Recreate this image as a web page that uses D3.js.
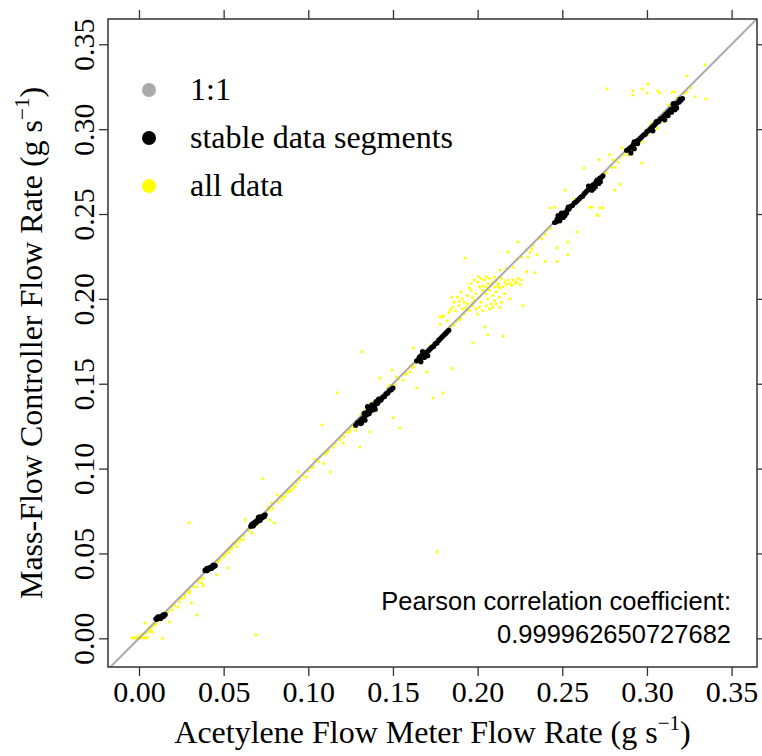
<!DOCTYPE html>
<html lang="en">
  <head>
    <meta charset="utf-8"/>
    <script src="https://d3js.org/d3.v7.min.js"></script>
    <title>Flow meter vs mass-flow controller</title>
  </head>
  <body style="margin:0;background:#fff">
    <svg id="chart"></svg>
  </body>

  <script>
    const xTicks = [0.00, 0.05, 0.10, 0.15, 0.20, 0.25, 0.30, 0.35];
    const yTicks = [0.00, 0.05, 0.10, 0.15, 0.20, 0.25, 0.30, 0.35];
    const legendLabels = ["1:1", "stable data segments", "all data"];
    const legendColors = ["#aaaaaa", "#000000", "#ffff00"];
    const pearsonLines = ["Pearson correlation coefficient:", "0.999962650727682"];

    // [flow meter, mass-flow controller] in g/s
    const allDataPoints = [
      [-0.004,0.0002],[-0.003,0.0005],[-0.002,0.0000],[-0.001,0.0004],[0.000,0.0001],[0.001,0.0006],
      [0.002,0.0002],[0.003,0.0004],[0.004,0.0001],[0.005,0.0005],[0.004,0.003],[0.006,0.004],
      [0.007,0.005],[0.0035,0.009],[0.0077,0.0067],[0.0077,0.0037],[0.0094,0.0079],[0.0135,0.012],
      [0.014,0.000],[0.017,0.0155],[0.018,0.0096],[0.0195,0.0167],[0.023,0.0184],[0.024,0.0214],
      [0.027,0.0255],[0.027,0.024],[0.030,0.0267],[0.030,0.0273],[0.034,0.0137],[0.031,0.0208],
      [0.0295,0.0285],[0.037,0.0326],[0.038,0.031],[0.0295,0.068],[0.0343,0.0302],[0.0378,0.0355],
      [0.046,0.0373],[0.0467,0.045],[0.0496,0.049],[0.0526,0.052],[0.0555,0.056],[0.058,0.0539],
      [0.0596,0.0597],[0.0614,0.058],[0.0638,0.0638],[0.0667,0.062],[0.0697,0.0668],[0.0526,0.0415],
      [0.0626,0.0697],[0.048,0.0465],[0.051,0.0495],[0.054,0.0525],[0.057,0.0555],[0.060,0.0585],
      [0.069,0.002],[0.073,0.094],[0.0774,0.0697],[0.080,0.068],[0.0815,0.0845],[0.0845,0.0815],
      [0.0874,0.0856],[0.090,0.0874],[0.0933,0.0915],[0.0762,0.0774],[0.0785,0.0797],[0.0833,0.0833],
      [0.086,0.0835],[0.089,0.0865],[0.092,0.0895],[0.094,0.098],[0.099,0.095],[0.103,0.101],
      [0.107,0.107],[0.109,0.103],[0.113,0.098],[0.1146,0.1127],[0.1187,0.1169],[0.1205,0.115],
      [0.1228,0.121],[0.1246,0.1228],[0.108,0.1257],[0.117,0.1446],[0.1305,0.1127],[0.1364,0.1216],
      [0.150,0.130],[0.154,0.124],[0.1317,0.1688],[0.1423,0.1535],[0.1494,0.158],[0.158,0.156],
      [0.164,0.1475],[0.170,0.157],[0.1736,0.1416],[0.1795,0.1446],[0.1848,0.159],[0.162,0.171],
      [0.1777,0.1894],[0.197,0.174],[0.152,0.154],[0.156,0.152],[0.160,0.157],[0.1423,0.1405],
      [0.1405,0.1346],[0.126,0.1245],[0.128,0.1225],[0.133,0.134],[0.138,0.139],[0.145,0.1435],
      [0.148,0.149],[0.151,0.1495],[0.162,0.160],[0.176,0.051],[0.100,0.0985],[0.111,0.1095],
      [0.116,0.1145],[0.104,0.1055],
      [0.1925,0.224],[0.1848,0.201],[0.179,0.1894],[0.204,0.1835],[0.206,0.1788],[0.215,0.178],
      [0.2268,0.196],[0.186,0.1845],[0.189,0.1875],
      [0.196,0.209],[0.198,0.211],[0.200,0.210],[0.202,0.212],[0.204,0.211],[0.206,0.209],
      [0.207,0.212],[0.209,0.210],[0.211,0.211],[0.212,0.209],[0.214,0.212],[0.216,0.210],
      [0.218,0.211],[0.219,0.209],[0.221,0.211],[0.223,0.210],[0.224,0.212],[0.226,0.211],
      [0.201,0.207],[0.205,0.207],[0.210,0.207],[0.215,0.207],[0.220,0.208],
      [0.196,0.205],[0.199,0.203],[0.201,0.201],[0.203,0.205],[0.205,0.203],[0.207,0.205],
      [0.209,0.202],[0.211,0.204],[0.213,0.201],[0.198,0.199],[0.194,0.202],[0.192,0.198],
      [0.190,0.204],[0.188,0.201],[0.216,0.203],[0.219,0.200],
      [0.185,0.195],[0.187,0.193],[0.189,0.196],[0.191,0.194],[0.193,0.195],[0.195,0.193],
      [0.197,0.196],[0.199,0.194],[0.201,0.195],[0.203,0.193],[0.205,0.196],[0.207,0.194],
      [0.209,0.195],[0.211,0.197],[0.213,0.195],[0.186,0.198],[0.192,0.191],[0.200,0.191],
      [0.180,0.190],[0.182,0.187],[0.183,0.192],[0.178,0.185],
      [0.217,0.218],[0.223,0.223],[0.229,0.229],[0.2327,0.2317],[0.2368,0.2364],[0.241,0.2406],
      [0.2238,0.2335],[0.218,0.2276],[0.2297,0.2247],[0.235,0.226],[0.2468,0.230],[0.2468,0.222],
      [0.2398,0.222],[0.2533,0.2335],[0.2533,0.226],[0.2586,0.2394],[0.2427,0.2535],[0.2457,0.2541],
      [0.2516,0.264],[0.2132,0.217],[0.210,0.2128],[0.229,0.216],[0.2338,0.2154],[0.221,0.2185],
      [0.226,0.2245],[0.231,0.2275],[0.238,0.2355],
      [0.263,0.277],[0.2675,0.254],[0.2722,0.2536],[0.271,0.249],[0.281,0.264],[0.284,0.2676],
      [0.2716,0.282],[0.278,0.285],[0.2852,0.289],[0.280,0.282],[0.284,0.283],[0.286,0.2848],
      [0.297,0.280],[0.2929,0.2907],[0.2976,0.2925],[0.3006,0.2966],[0.3018,0.3025],[0.3047,0.3037],
      [0.3088,0.3084],[0.3118,0.3113],[0.3124,0.3143],[0.3177,0.3184],[0.3195,0.319],[0.3236,0.3219],
      [0.3283,0.319],[0.3348,0.3178],[0.3236,0.3314],[0.3342,0.3379],[0.2764,0.3237],[0.2917,0.3225],
      [0.2917,0.3201],[0.297,0.3237],[0.3006,0.3266],[0.300,0.3213],[0.3065,0.3225],[0.3077,0.3213],
      [0.3148,0.3219],[0.3165,0.3219],[0.2663,0.254],[0.2705,0.2495],[0.274,0.2536],[0.281,0.2775],
      [0.289,0.2845],[0.295,0.291],[0.306,0.3005],[0.310,0.3045],
      [0.0005,0.0015],[0.002,0.0025],[0.006,0.0065],[0.008,0.0085],[0.010,0.0085],[0.012,0.0105],
      [0.016,0.0145],[0.019,0.0185],[0.021,0.0195],[0.025,0.0235],[0.028,0.0275],[0.032,0.0305],
      [0.035,0.0335],[0.036,0.035],[0.044,0.0435],[0.047,0.0455],[0.050,0.048],[0.053,0.0505],
      [0.055,0.0535],[0.059,0.057],[0.062,0.0605],[0.065,0.0635],[0.075,0.0735],[0.077,0.0755],
      [0.079,0.0765],[0.082,0.0805],[0.085,0.0835],[0.088,0.087],[0.091,0.0885],[0.095,0.0935],
      [0.097,0.096],[0.102,0.1005],[0.106,0.104],[0.110,0.1085],[0.112,0.1105],[0.119,0.1175],
      [0.121,0.119],[0.124,0.1215],[0.127,0.126],[0.131,0.1315],[0.135,0.1355],[0.139,0.1395],
      [0.143,0.1425],[0.147,0.1475],[0.153,0.1525],[0.157,0.1555],[0.161,0.1595],[0.163,0.162],
      [0.172,0.1725],[0.178,0.178],[0.184,0.1835],[0.187,0.1865],[0.190,0.1885],[0.194,0.1935],
      [0.197,0.1975],[0.203,0.2075],[0.208,0.208],[0.213,0.2065],[0.217,0.2085],[0.222,0.209],
      [0.225,0.2085],[0.195,0.2065],[0.197,0.201],[0.202,0.198],[0.206,0.200],[0.210,0.199],
      [0.214,0.198],[0.191,0.200],[0.189,0.1985],[0.184,0.1935],[0.194,0.197],[0.208,0.197],
      [0.212,0.2075],[0.2005,0.213],[0.205,0.213],[0.232,0.2295],[0.240,0.238],[0.243,0.2415],
      [0.257,0.2585],[0.261,0.2585],[0.268,0.2685],[0.276,0.2745],[0.279,0.2775],[0.283,0.2805],
      [0.287,0.286],[0.294,0.2935],[0.299,0.2985],[0.303,0.3035],[0.308,0.3055],[0.314,0.3145],
      [0.318,0.3175],[0.322,0.321],[0.326,0.3245]
    ];

    const stablePoints = [
      [0.0100,0.0115],[0.0105,0.0112],[0.0110,0.0120],[0.0115,0.0118],[0.0120,0.0125],[0.0125,0.0122],
      [0.0130,0.0128],[0.0135,0.0126],[0.0140,0.0132],[0.0145,0.0130],[0.0150,0.0136],[0.0112,0.0126],
      [0.0128,0.0117],[0.0142,0.0138],[0.0155,0.0140],
      [0.0390,0.0400],[0.0395,0.0405],[0.0400,0.0398],[0.0405,0.0410],[0.0410,0.0405],[0.0415,0.0415],
      [0.0420,0.0412],[0.0425,0.0420],[0.0430,0.0418],[0.0435,0.0425],[0.0440,0.0422],[0.0445,0.0430],
      [0.0450,0.0428],[0.0402,0.0412],[0.0428,0.0412],[0.0438,0.0432],
      [0.0660,0.0660],[0.0665,0.0670],[0.0670,0.0665],[0.0675,0.0678],[0.0680,0.0672],[0.0685,0.0685],
      [0.0690,0.0680],[0.0695,0.0692],[0.0700,0.0688],[0.0705,0.0700],[0.0710,0.0696],[0.0715,0.0708],
      [0.0720,0.0704],[0.0725,0.0715],[0.0730,0.0712],[0.0735,0.0722],[0.0740,0.0718],[0.0745,0.0728],
      [0.0675,0.0662],[0.0712,0.0716],[0.0705,0.0712],[0.0715,0.0695],
      [0.128,0.1255],[0.129,0.1270],[0.130,0.1275],[0.131,0.1285],[0.132,0.1295],[0.133,0.1300],
      [0.134,0.1315],[0.1345,0.1330],[0.135,0.1320],[0.136,0.1340],[0.137,0.1345],[0.138,0.1360],
      [0.139,0.1365],[0.140,0.1380],[0.141,0.1385],[0.142,0.1400],[0.143,0.1405],[0.144,0.1420],
      [0.145,0.1425],[0.146,0.1440],[0.147,0.1445],[0.148,0.1460],[0.149,0.1465],[0.150,0.1475],
      [0.1315,0.1270],[0.1335,0.1285],[0.1355,0.1345],[0.1375,0.1375],[0.1395,0.1350],[0.1415,0.1410],
      [0.133,0.1325],[0.136,0.1325],[0.135,0.1365],[0.131,0.1265],[0.138,0.1345],[0.140,0.1395],
      [0.164,0.1635],[0.165,0.1640],[0.1655,0.1655],[0.166,0.1650],[0.167,0.1665],[0.168,0.1670],
      [0.169,0.1680],[0.170,0.1685],[0.171,0.1695],[0.172,0.1705],[0.173,0.1715],[0.174,0.1720],
      [0.175,0.1735],[0.176,0.1740],[0.177,0.1755],[0.178,0.1765],[0.179,0.1775],[0.180,0.1785],
      [0.181,0.1795],[0.182,0.1805],[0.183,0.1815],[0.1665,0.1630],[0.1685,0.1655],[0.1705,0.1665],
      [0.1675,0.1690],[0.1665,0.1665],[0.1695,0.1665],
      [0.2455,0.2450],[0.2465,0.2455],[0.247,0.2470],[0.248,0.2475],[0.249,0.2485],[0.250,0.2490],
      [0.251,0.2505],[0.252,0.2510],[0.253,0.2525],[0.254,0.2530],[0.255,0.2545],[0.256,0.2550],
      [0.257,0.2565],[0.258,0.2570],[0.2485,0.2460],[0.2505,0.2480],[0.2525,0.2505],[0.2475,0.2490],
      [0.2495,0.2505],[0.2515,0.2490],[0.2535,0.2540],
      [0.259,0.2580],[0.260,0.2590],[0.261,0.2600],[0.262,0.2605],[0.263,0.2620],[0.264,0.2630],
      [0.265,0.2640],[0.266,0.2650],[0.267,0.2660],[0.268,0.2670],[0.269,0.2675],[0.270,0.2690],
      [0.271,0.2695],[0.272,0.2710],[0.273,0.2715],[0.274,0.2725],[0.2675,0.2640],[0.2695,0.2660],
      [0.2715,0.2680],[0.2655,0.2665],[0.2685,0.2650],[0.2705,0.2700],[0.2725,0.2690],
      [0.288,0.2875],[0.289,0.2880],[0.290,0.2890],[0.291,0.2895],[0.292,0.2910],[0.293,0.2915],
      [0.294,0.2930],[0.295,0.2935],[0.296,0.2945],[0.297,0.2955],[0.298,0.2965],[0.299,0.2970],
      [0.300,0.2985],[0.301,0.2990],[0.302,0.3000],[0.303,0.3010],[0.304,0.3020],[0.305,0.3030],
      [0.306,0.3040],[0.307,0.3045],[0.308,0.3060],[0.309,0.3065],[0.310,0.3075],[0.311,0.3085],
      [0.312,0.3095],[0.313,0.3105],[0.314,0.3115],[0.315,0.3120],[0.316,0.3135],[0.317,0.3140],
      [0.318,0.3155],[0.319,0.3160],[0.320,0.3170],[0.321,0.3180],[0.2905,0.2860],[0.2925,0.2885],
      [0.3105,0.3055],[0.3125,0.3080],[0.3145,0.3100],[0.3165,0.3115],
      [0.2925,0.2925],[0.2945,0.2915],[0.3035,0.2990],[0.3055,0.3045],[0.3155,0.3150],[0.3175,0.3125],
      [0.3195,0.3175]
    ];

    const W = 762, H = 756;
    const margin = {top: 19, right: 5, bottom: 89, left: 108};
    const width = W - margin.left - margin.right,
          height = H - margin.top - margin.bottom;
    const serif = "'Liberation Serif', 'Times New Roman', serif";
    const sans = "'Liberation Sans', Arial, sans-serif";

    const svg = d3.select("#chart")
        .attr("width", W)
        .attr("height", H);

    const g = svg.append("g")
        .attr("transform", "translate(" + margin.left + "," + margin.top + ")");

    const xScale = d3.scaleLinear().domain([-0.0183, 0.365]).range([0, width]);
    const yScale = d3.scaleLinear().domain([-0.0169, 0.3649]).range([height, 0]);

    g.append("clipPath").attr("id", "plotclip")
      .append("rect").attr("width", width).attr("height", height);

    const plot = g.append("g").attr("clip-path", "url(#plotclip)");

    // all data (yellow)
    plot.selectAll(".alld")
      .data(allDataPoints)
      .enter()
      .append("rect")
        .attr("class", "alld")
        .attr("x", d => xScale(d[0]) - 1.3)
        .attr("y", d => yScale(d[1]) - 1.3)
        .attr("width", 2.6)
        .attr("height", 2.6)
        .style("fill", "#ffff00");

    // 1:1 line
    plot.append("line")
      .attr("x1", xScale(-0.02)).attr("y1", yScale(-0.02))
      .attr("x2", xScale(0.37)).attr("y2", yScale(0.37))
      .style("stroke", "#aaaaaa")
      .style("stroke-width", 2);

    // stable segments (black)
    plot.selectAll(".stable")
      .data(stablePoints)
      .enter()
      .append("circle")
        .attr("class", "stable")
        .attr("cx", d => xScale(d[0]))
        .attr("cy", d => yScale(d[1]))
        .attr("r", 2.6)
        .style("fill", "#000");

    // axes, ticks on all four sides, labels left and bottom
    const styleAxis = (sel) => {
      sel.select(".domain").remove();
      sel.selectAll(".tick line").style("stroke", "#333").style("stroke-width", 1.3);
      sel.selectAll(".tick text").style("font-family", serif).style("font-size", "30px").style("fill", "#000");
    };

    g.append("g")
      .attr("transform", "translate(0," + height + ")")
      .call(d3.axisBottom(xScale).tickValues(xTicks).tickFormat(d3.format(".2f")).tickSizeInner(9).tickPadding(8))
      .call(styleAxis)
      .selectAll(".tick text").attr("dy", null).attr("y", 35);

    g.append("g")
      .call(d3.axisTop(xScale).tickValues(xTicks).tickFormat("").tickSizeInner(9))
      .call(styleAxis);

    g.append("g")
      .attr("transform", "translate(" + width + ",0)")
      .call(d3.axisRight(yScale).tickValues(yTicks).tickFormat("").tickSizeInner(9))
      .call(styleAxis);

    const yAxis = g.append("g")
      .call(d3.axisLeft(yScale).tickValues(yTicks).tickFormat(d3.format(".2f")).tickSizeInner(9))
      .call(styleAxis);
    yAxis.selectAll(".tick text")
      .attr("x", null).attr("dy", null)
      .attr("text-anchor", "middle")
      .attr("transform", "translate(-14,0) rotate(-90)");

    // box
    g.append("rect")
      .attr("width", width).attr("height", height)
      .style("fill", "none")
      .style("stroke", "#333")
      .style("stroke-width", 1.5);

    // axis titles
    const xTitle = svg.append("text")
      .attr("x", margin.left + width / 2)
      .attr("y", 743)
      .attr("text-anchor", "middle")
      .style("font-family", serif)
      .style("font-size", "32px");
    xTitle.append("tspan").text("Acetylene Flow Meter Flow Rate (g s");
    xTitle.append("tspan").attr("dy", -13).style("font-size", "21px").text("\u22121");
    xTitle.append("tspan").attr("dy", 13).text(")");

    const yTitle = svg.append("text")
      .attr("transform", "translate(42," + (margin.top + height / 2) + ") rotate(-90)")
      .attr("text-anchor", "middle")
      .style("font-family", serif)
      .style("font-size", "32px");
    yTitle.append("tspan").text("Mass-Flow Controller Flow Rate (g s");
    yTitle.append("tspan").attr("dy", -13).style("font-size", "21px").text("\u22121");
    yTitle.append("tspan").attr("dy", 13).text(")");

    // legend
    const legend = svg.append("g");
    legend.selectAll("circle")
      .data(legendLabels)
      .enter()
      .append("circle")
        .attr("cx", 149)
        .attr("cy", (d, i) => 90 + i * 48)
        .attr("r", 7)
        .style("fill", (d, i) => legendColors[i]);
    legend.selectAll("text")
      .data(legendLabels)
      .enter()
      .append("text")
        .attr("x", 190)
        .attr("y", (d, i) => 100 + i * 48)
        .style("font-family", serif)
        .style("font-size", "32px")
        .text(d => d);

    // correlation note
    svg.selectAll(".pearson")
      .data(pearsonLines)
      .enter()
      .append("text")
        .attr("class", "pearson")
        .attr("x", 731)
        .attr("y", (d, i) => 610 + i * 33)
        .attr("text-anchor", "end")
        .style("font-family", sans)
        .style("font-size", "25.5px")
        .text(d => d);
  </script>
</html>
